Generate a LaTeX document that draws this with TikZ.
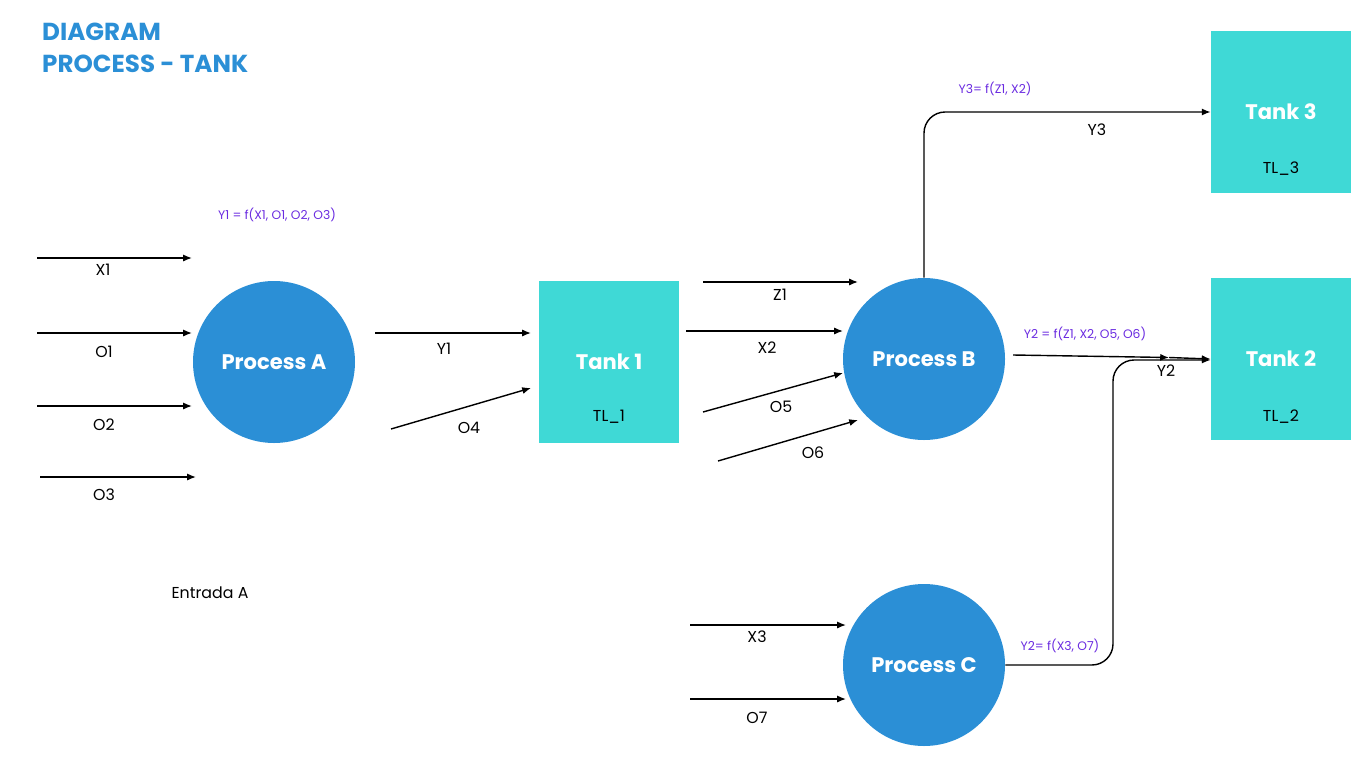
\documentclass[tikz,border=0pt]{standalone}
\usepackage{fontspec}
\setmainfont{Poppins}
\usetikzlibrary{arrows.meta}
\definecolor{procblue}{HTML}{2B8FD6}
\definecolor{tankcyan}{HTML}{3FD9D6}
\definecolor{formula}{HTML}{6A2BE0}
\begin{document}
\begin{tikzpicture}[x=0.02cm,y=-0.02cm,
	proc/.style={circle, fill=procblue, minimum size=162*0.02cm, inner sep=0pt, text=white, font=\fontsize{12}{14}\selectfont\bfseries},
	tank/.style={fill=tankcyan, minimum width=140*0.02cm, minimum height=162*0.02cm, inner sep=0pt},
	flow/.style={thick, -{Latex[length=5pt,width=4pt]}},
	lbl/.style={font=\fontsize{9}{10}\selectfont},
	fml/.style={text=formula, font=\fontsize{7}{8}\selectfont}]
	\useasboundingbox (0,0) rectangle (1358,764);
	%title
	\node[anchor=west, text=procblue, font=\fontsize{14}{16}\selectfont\bfseries] (title1) at (36,32) {DIAGRAM};
	\node[anchor=west, text=procblue, font=\fontsize{14}{16}\selectfont\bfseries] (title2) at (36,64) {PROCESS - TANK};
	%processes
	\node[proc] (pa) at (274,362) {Process A};
	\node[proc] (pb) at (924,359) {Process B};
	\node[proc] (pc) at (924,665) {Process C};
	%tanks
	\node[tank] (t1) at (609,362) {};
	\node[text=white, font=\fontsize{12}{14}\selectfont\bfseries] (t1n) at (609,362) {Tank 1};
	\node[lbl] (t1l) at (609,417) {TL\_1};
	\node[tank] (t2) at (1281,359) {};
	\node[text=white, font=\fontsize{12}{14}\selectfont\bfseries] (t2n) at (1281,359) {Tank 2};
	\node[lbl] (t2l) at (1281,417) {TL\_2};
	\node[tank] (t3) at (1281,112) {};
	\node[text=white, font=\fontsize{12}{14}\selectfont\bfseries] (t3n) at (1281,112) {Tank 3};
	\node[lbl] (t3l) at (1281,169) {TL\_3};
	%inputs A
	\coordinate (x1s) at (37,258); \coordinate (x1e) at (192,258);
	\coordinate (o1s) at (37,333); \coordinate (o1e) at (192,333);
	\coordinate (o2s) at (37,406); \coordinate (o2e) at (192,406);
	\coordinate (o3s) at (40,477); \coordinate (o3e) at (196,477);
	\draw[flow] (x1s) -- (x1e);
	\draw[flow] (o1s) -- (o1e);
	\draw[flow] (o2s) -- (o2e);
	\draw[flow] (o3s) -- (o3e);
	\node[lbl] (x1) at (103,270) {X1};
	\node[lbl] (o1) at (104,352) {O1};
	\node[lbl] (o2) at (104,425) {O2};
	\node[lbl] (o3) at (104,495) {O3};
	\node[fml] (fa) at (277,215) {Y1 = f(X1, O1, O2, O3)};
	\node[lbl] (entrada) at (210,593) {Entrada A};
	%tank 1 inputs
	\coordinate (y1s) at (375,333); \coordinate (y1e) at (531,333);
	\coordinate (o4s) at (391,429); \coordinate (o4e) at (531,388);
	\draw[flow] (y1s) -- (y1e);
	\draw[flow] (o4s) -- (o4e);
	\node[lbl] (y1) at (444,349) {Y1};
	\node[lbl] (o4) at (469,428) {O4};
	%inputs B
	\coordinate (z1s) at (703,282); \coordinate (z1e) at (858,282);
	\coordinate (x2s) at (686,331); \coordinate (x2e) at (843,331);
	\coordinate (o5s) at (703,412); \coordinate (o5e) at (843,373);
	\coordinate (o6s) at (718,461); \coordinate (o6e) at (858,420);
	\draw[flow] (z1s) -- (z1e);
	\draw[flow] (x2s) -- (x2e);
	\draw[flow] (o5s) -- (o5e);
	\draw[flow] (o6s) -- (o6e);
	\node[lbl] (z1) at (780,295) {Z1};
	\node[lbl] (x2) at (767,348) {X2};
	\node[lbl] (o5) at (781,407) {O5};
	\node[lbl] (o6) at (813,453) {O6};
	%outputs B
	\draw[flow, rounded corners=12] (pb.north) -- (924,112) -- (t3.west);
	\node[lbl] (y3) at (1097,130) {Y3};
	\node[fml] (fb3) at (995,89) {Y3= f(Z1, X2)};
	\coordinate (y2s) at (1013,355); \coordinate (y2m) at (1169,357.5);
	\draw[flow] (y2s) -- (y2m);
	\draw[flow] (y2m) -- (t2.west);
	\node[lbl] (y2) at (1166,371) {Y2};
	\node[fml] (fb2) at (1085,334) {Y2 = f(Z1, X2, O5, O6)};
	%process C
	\coordinate (x3s) at (690,625); \coordinate (x3e) at (846,625);
	\coordinate (o7s) at (690,699); \coordinate (o7e) at (846,699);
	\draw[flow] (x3s) -- (x3e);
	\draw[flow] (o7s) -- (o7e);
	\node[lbl] (x3) at (757,637) {X3};
	\node[lbl] (o7) at (757,718) {O7};
	\draw[flow, rounded corners=12] (pc.east) -- (1113,665) -- (1113,360) -- (t2.west |- 0,360);
	\node[fml] (fc) at (1060,646) {Y2= f(X3, O7)};
\end{tikzpicture}
\end{document}
